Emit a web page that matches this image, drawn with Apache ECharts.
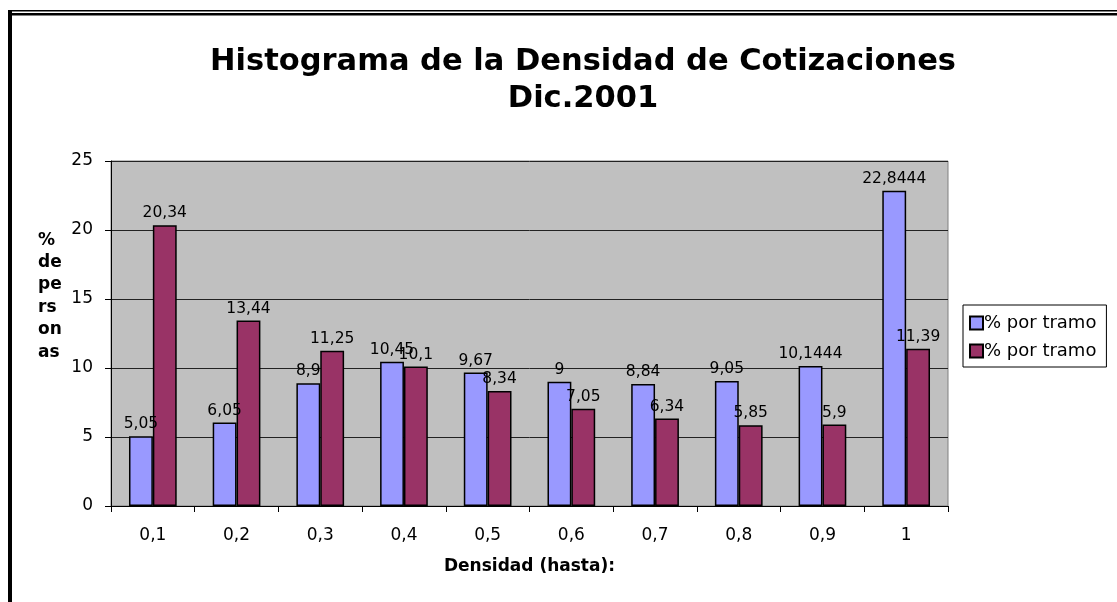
<!DOCTYPE html>
<html><head><meta charset="utf-8">
<script src="https://cdn.jsdelivr.net/npm/echarts@6/dist/echarts.min.js"></script>
<style>html,body{margin:0;padding:0;background:#fff}#c{width:1117px;height:602px}</style>
</head><body><div id="c"></div>
<script>
var categories = ['0,1','0,2','0,3','0,4','0,5','0,6','0,7','0,8','0,9','1'];
var seriesA = [5.05, 6.05, 8.9, 10.45, 9.67, 9, 8.84, 9.05, 10.1444, 22.8444];
var seriesB = [20.34, 13.44, 11.25, 10.1, 8.34, 7.05, 6.34, 5.85, 5.9, 11.39];
var legendLabel = '% por tramo';
var titleText = 'Histograma de la Densidad de Cotizaciones\nDic.2001';
var yName = '%\nde\npe\nrs\non\nas';
var xName = 'Densidad (hasta):';

var font = 'DejaVu Sans';
var chart = echarts.init(document.getElementById('c'));
function fmt(p){ return String(p.value).replace('.', ','); }
var lbl = {show:true, position:'top', distance:4, fontFamily:font, fontSize:15.5, color:'#000', formatter:fmt};
chart.setOption({
  animation:false,
  backgroundColor:'#fff',
  title:{text:titleText, left:583, top:44, textAlign:'center', padding:0,
    textStyle:{fontFamily:font, fontSize:30.5, fontWeight:'bold', color:'#000', lineHeight:37}},
  legend:{orient:'vertical', left:963, top:305, width:150, padding:[9,10,7,6],
    backgroundColor:'#fff', borderColor:'#000', borderWidth:1, borderRadius:0,
    itemWidth:13, itemHeight:13, itemGap:10, icon:'rect',
    formatter:function(){return legendLabel;},
    textStyle:{fontFamily:font, fontSize:18, color:'#000', padding:[0,0,0,-4]},
    data:['a','b']},
  grid:{left:111, right:169, top:161, bottom:96, show:true, backgroundColor:'#C0C0C0', borderColor:'#808080', borderWidth:1},
  xAxis:{type:'category', data:categories,
    name:xName, nameLocation:'middle', nameGap:52,
    nameTextStyle:{fontFamily:font, fontSize:17, fontWeight:'bold', color:'#000'},
    axisLine:{lineStyle:{color:'#000', width:1}},
    axisTick:{show:true, length:6, lineStyle:{color:'#000'}},
    axisLabel:{fontFamily:font, fontSize:17, color:'#000', margin:21}},
  yAxis:{type:'value', min:0, max:25, interval:5,
    axisLine:{show:true, lineStyle:{color:'#000', width:1}},
    axisTick:{show:true, length:6, lineStyle:{color:'#000'}},
    axisLabel:{fontFamily:font, fontSize:17, color:'#000', margin:18, padding:[3,0,0,0]},
    splitLine:{show:true, lineStyle:{color:'#222', width:1}}},
  graphic:[
    {type:'rect', shape:{x:8, y:10, width:1109, height:1.5}, style:{fill:'#000'}, silent:true},
    {type:'rect', shape:{x:8, y:13, width:1109, height:2.5}, style:{fill:'#000'}, silent:true},
    {type:'rect', shape:{x:8, y:10, width:4, height:592}, style:{fill:'#000'}, silent:true},
    {type:'text', left:38, top:229, style:{text:yName, fontFamily:font, fontSize:17, fontWeight:'bold', fill:'#000', lineHeight:22.4}}
  ],
  series:[
    {name:'a', type:'bar', data:seriesA, barGap:'0%', barCategoryGap:'43%',
      itemStyle:{color:'#9999FF', borderColor:'#000', borderWidth:1.5}, label:lbl},
    {name:'b', type:'bar', data:seriesB,
      itemStyle:{color:'#993366', borderColor:'#000', borderWidth:1.5}, label:lbl}
  ]
});
</script></body></html>
